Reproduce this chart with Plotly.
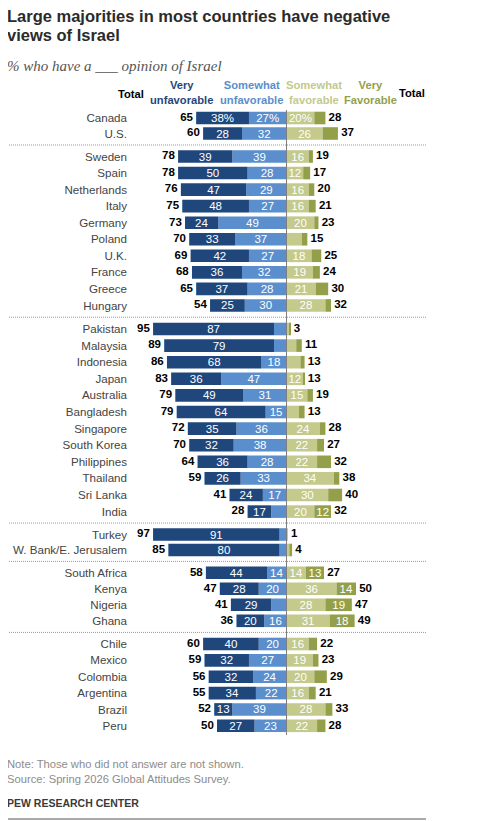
import plotly.graph_objects as go

paises = ["Canada", "U.S.",
          "Sweden", "Spain", "Netherlands", "Italy", "Germany", "Poland", "U.K.", "France", "Greece", "Hungary",
          "Pakistan", "Malaysia", "Indonesia", "Japan", "Australia", "Bangladesh", "Singapore", "South Korea",
          "Philippines", "Thailand", "Sri Lanka", "India",
          "Turkey", "W. Bank/E. Jerusalem",
          "South Africa", "Kenya", "Nigeria", "Ghana",
          "Chile", "Mexico", "Colombia", "Argentina", "Brazil", "Peru"]
grupos = [2, 10, 12, 2, 4, 6]

muy_desfav = [38, 28,
              39, 50, 47, 48, 24, 33, 42, 36, 37, 25,
              87, 79, 68, 36, 49, 64, 35, 32, 36, 26, 24, 17,
              91, 80,
              44, 28, 29, 20,
              40, 32, 32, 34, 13, 27]
algo_desfav = [27, 32,
               39, 28, 29, 27, 49, 37, 27, 32, 28, 30,
               9, 9, 18, 47, 31, 15, 36, 38, 28, 33, 17, 11,
               5, 5,
               14, 20, 11, 16,
               20, 27, 24, 22, 39, 23]
algo_fav = [20, 26,
            16, 12, 16, 16, 20, 11, 18, 19, 21, 28,
            2, 7, 10, 12, 15, 9, 24, 22, 22, 34, 30, 20,
            1, 2,
            14, 36, 28, 31,
            16, 19, 20, 16, 28, 22]
muy_fav = [8, 11,
           3, 5, 4, 5, 3, 4, 7, 5, 9, 4,
           1, 4, 3, 1, 4, 4, 4, 5, 10, 4, 10, 12,
           0, 2,
           13, 14, 19, 18,
           6, 4, 9, 5, 5, 6]
total_desfav = [65, 60,
                78, 78, 76, 75, 73, 70, 69, 68, 65, 54,
                95, 89, 86, 83, 79, 79, 72, 70, 64, 59, 41, 28,
                97, 85,
                58, 47, 41, 36,
                60, 59, 56, 55, 52, 50]
total_fav = [28, 37,
             19, 17, 20, 21, 23, 15, 25, 24, 30, 32,
             3, 11, 13, 13, 19, 13, 28, 27, 32, 38, 40, 32,
             1, 4,
             27, 50, 47, 49,
             22, 23, 29, 21, 33, 28]

AZUL = "#1f477c"
AZUL2 = "#5a8ecc"
VERDE = "#c4c98c"
VERDE2 = "#949f4a"
FUENTE = "Liberation Sans"

# medidas en pixeles de la foto; la pagina deja 8 px de margen en el body
BODY = 8
ANCHO, ALTO = 471, 813
izq, der, arriba, abajo = 128, 430, 100, 735
escala = 1.39
centro = 286.5
inicio_grupo = [118, 156.5, 329, 534.5, 572.8, 644]
paso_grupo = [15.5, 16.55, 16.6, 15.5, 16, 16.36]

y_filas = []
for n, ini, paso in zip(grupos, inicio_grupo, paso_grupo):
    for i in range(n):
        y_filas.append(ini + i * paso)
separadores = []
acum = 0
for n in grupos[:-1]:
    acum += n
    separadores.append((y_filas[acum - 1] + y_filas[acum]) / 2)


def px(x):
    return (x - izq) / (der - izq)


def py(y):
    return 1 - (y - arriba) / (abajo - arriba)


def etiquetas(valores):
    salida = []
    for i, v in enumerate(valores):
        if v < 12:
            salida.append("")
        elif i == 0:
            salida.append(f"{v}%")
        else:
            salida.append(str(v))
    return salida


fig = go.Figure()
series = [(algo_desfav, -1, AZUL2), (muy_desfav, -1, AZUL), (algo_fav, 1, VERDE), (muy_fav, 1, VERDE2)]
for valores, signo, color in series:
    fig.add_trace(go.Bar(y=y_filas,
                         x=[signo * v for v in valores],
                         orientation="h",
                         width=12.6,
                         marker=dict(color=color, line=dict(width=0)),
                         text=etiquetas(valores),
                         textposition="inside",
                         insidetextanchor="middle",
                         constraintext="none",
                         textangle=0,
                         insidetextfont=dict(family=FUENTE, size=11.5, color="white"),
                         showlegend=False))

fig.add_trace(go.Scatter(x=[-(a + b) for a, b in zip(muy_desfav, algo_desfav)],
                         y=y_filas,
                         mode="text",
                         text=[f"<b>{t}</b>\u00a0" for t in total_desfav],
                         textposition="middle left",
                         textfont=dict(family=FUENTE, size=11.5, color="black"),
                         cliponaxis=False,
                         showlegend=False))
fig.add_trace(go.Scatter(x=[a + b for a, b in zip(algo_fav, muy_fav)],
                         y=y_filas,
                         mode="text",
                         text=[f"\u00a0<b>{t}</b>" for t in total_fav],
                         textposition="middle right",
                         textfont=dict(family=FUENTE, size=11.5, color="black"),
                         cliponaxis=False,
                         showlegend=False))

for s in separadores:
    fig.add_shape(type="line", xref="paper", x0=px(7), x1=px(426), yref="y", y0=s, y1=s,
                  line=dict(color="#999999", width=1, dash="1px,1px"))
fig.add_shape(type="line", xref="x", x0=0, x1=0, yref="paper", y0=py(110), y1=py(735),
              line=dict(color="#7f7f7f", width=1))
fig.add_shape(type="line", xref="paper", x0=px(7), x1=px(426), yref="paper", y0=py(819), y1=py(819),
              line=dict(color="#555555", width=1))


def texto(x, y, t, size=12, color="black", family=FUENTE, align="left", anchor="left"):
    fig.add_annotation(xref="paper", yref="paper", x=px(x), y=py(y), text=t, showarrow=False,
                       xanchor=anchor, yanchor="middle", align=align,
                       borderpad=0, borderwidth=0,
                       font=dict(family=family, size=size, color=color))


texto(7, 16, "<b>Large majorities in most countries have negative</b>", 16.5, "#2b2b2b")
texto(7, 35, "<b>views of Israel</b>", 16.5, "#2b2b2b")
texto(7, 66, "<i>% who have a ___ opinion of Israel</i>", 15, "#555555", "Liberation Serif")
texto(131, 94, "<b>Total</b>", 11.2, anchor="center")
texto(412, 93, "<b>Total</b>", 11.2, anchor="center")
texto(181, 93, "<b>Very<br>unfavorable</b>", 11.2, AZUL, align="center", anchor="center")
texto(251, 93, "<b>Somewhat<br>unfavorable</b>", 11.2, AZUL2, align="center", anchor="center")
texto(314, 93, "<b>Somewhat<br>favorable</b>", 11.2, VERDE, align="center", anchor="center")
texto(370, 93, "<b>Very<br>Favorable</b>", 11.2, VERDE2, align="center", anchor="center")
texto(7, 764, "Note: Those who did not answer are not shown.", 11.2, "#8c8c8c")
texto(7, 779, "Source: Spring 2026 Global Attitudes Survey.", 11.2, "#8c8c8c")
texto(7, 803, "<b>PEW RESEARCH CENTER</b>", 10.5, "#3a3a3a")

fig.update_layout(width=ANCHO, height=ALTO,
                  margin=dict(l=izq - BODY, r=ANCHO - (der - BODY), t=arriba - BODY,
                              b=ALTO - (abajo - BODY), autoexpand=False),
                  barmode="relative",
                  plot_bgcolor="white",
                  paper_bgcolor="white")
fig.update_xaxes(range=[(izq - centro) / escala, (der - centro) / escala], visible=False)
fig.update_yaxes(range=[abajo, arriba],
                 tickvals=y_filas,
                 ticktext=paises,
                 ticks="",
                 showgrid=False,
                 zeroline=False,
                 showline=False,
                 ticklabelstandoff=0,
                 tickfont=dict(family=FUENTE, size=11.6, color="#444444"))

fig.write_html("out.html")
